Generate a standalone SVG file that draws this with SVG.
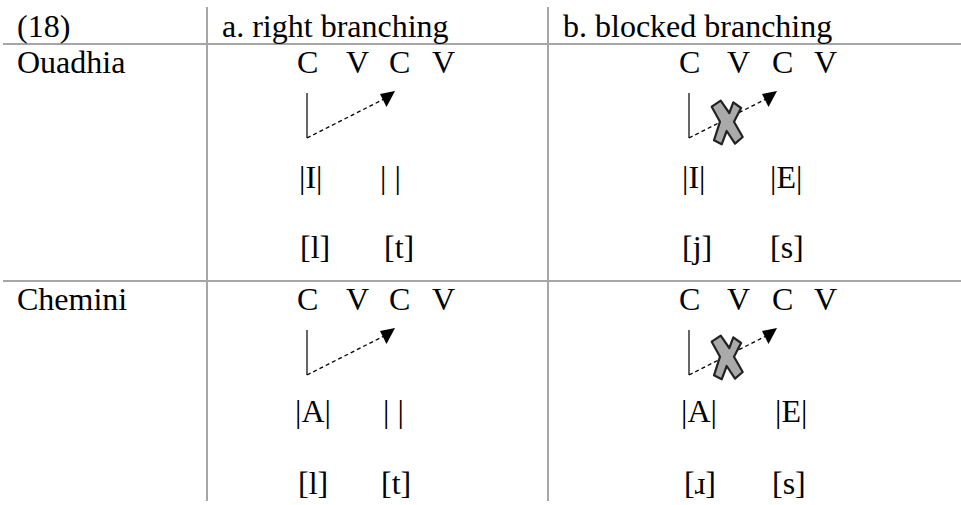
<svg xmlns="http://www.w3.org/2000/svg" width="961" height="505" viewBox="0 0 961 505">
<defs>
<style>
text{font-family:"Liberation Serif","Times New Roman","DejaVu Serif",serif;font-size:32px;fill:#000}
.grid{stroke:#a6a6a6;stroke-width:2;fill:none}
.solid{stroke:#333;stroke-width:1.5;fill:none}
.dash{stroke:#000;stroke-width:1.3;stroke-dasharray:4 3;fill:none}
.cross{fill:#aaaaaa;stroke:#222;stroke-width:2.2;stroke-linejoin:round}
.head{fill:#000}
</style>
<path id="ah" class="head" d="M0,3 L15,0 L6.5,16 Z"/>
<polygon id="x" class="cross" points="711.7,106.7 720.7,100.7 729.3,113 733.3,102.3 741.1,108 734,121.7 742.7,137 735,143.7 726.7,131 721.7,144.3 714,140.3 720,121.7"/>
</defs>
<rect width="961" height="505" fill="#fff"/>
<g id="grid">
<line class="grid" x1="3" y1="44" x2="961" y2="44"/>
<line class="grid" x1="3" y1="281" x2="961" y2="281"/>
<line class="grid" x1="207" y1="7" x2="207" y2="501"/>
<line class="grid" x1="548" y1="7" x2="548" y2="501"/>
</g>
<g id="header">
<text x="17" y="37">(18)</text>
<text x="222" y="37">a. right branching</text>
<text x="563" y="37">b. blocked branching</text>
</g>
<g id="label-ouadhia"><text x="17" y="73">Ouadhia</text></g>
<g id="label-chemini"><text x="17" y="310">Chemini</text></g>
<g id="ouadhia-a">
<text x="297" y="73">C</text><text x="346" y="73">V</text><text x="389" y="73">C</text><text x="432" y="73">V</text>
<text x="299" y="188">|I|</text><text x="380" y="188">| |</text>
<text x="300" y="258">[l]</text><text x="384" y="258">[t]</text>
</g>
<g id="ouadhia-b">
<text x="679" y="73">C</text><text x="727" y="73">V</text><text x="772" y="73">C</text><text x="814" y="73">V</text>
<text x="682" y="188">|I|</text><text x="770" y="188">|E|</text>
<text x="682" y="258">[j]</text><text x="770" y="258">[s]</text>
</g>
<g id="chemini-a">
<text x="297" y="310">C</text><text x="346" y="310">V</text><text x="389" y="310">C</text><text x="432" y="310">V</text>
<text x="295" y="422">|A|</text><text x="383" y="422">| |</text>
<text x="298" y="494">[l]</text><text x="381" y="494">[t]</text>
</g>
<g id="chemini-b">
<text x="679" y="310">C</text><text x="727" y="310">V</text><text x="772" y="310">C</text><text x="814" y="310">V</text>
<text x="681" y="422">|A|</text><text x="775" y="422">|E|</text>
<text x="684" y="494">[ɹ]</text><text x="772" y="494">[s]</text>
</g>
<g id="connectors">
<line class="solid" x1="307" y1="93" x2="307" y2="138"/>
<line class="dash" x1="307" y1="138" x2="384" y2="99"/>
<use href="#ah" transform="translate(380,91)"/>
<line class="solid" x1="689" y1="93" x2="689" y2="138"/>
<line class="dash" x1="689" y1="138" x2="766" y2="99"/>
<use href="#ah" transform="translate(762,91)"/>
<line class="solid" x1="307" y1="330" x2="307" y2="375"/>
<line class="dash" x1="307" y1="375" x2="384" y2="336"/>
<use href="#ah" transform="translate(380,328)"/>
<line class="solid" x1="689" y1="330" x2="689" y2="375"/>
<line class="dash" x1="689" y1="375" x2="766" y2="336"/>
<use href="#ah" transform="translate(762,328)"/>
</g>
<g id="block-1"><use href="#x"/></g>
<g id="block-2"><use href="#x" transform="translate(0,235)"/></g>
</svg>
